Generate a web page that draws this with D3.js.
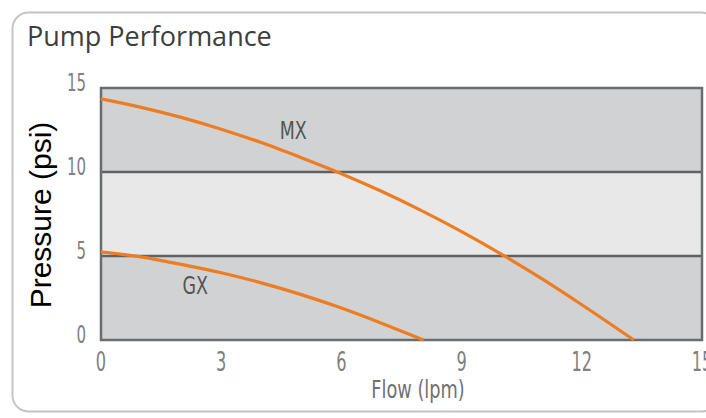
<!DOCTYPE html>
<html>
<head>
<meta charset="utf-8">
<script src="https://cdn.jsdelivr.net/npm/d3@7"></script>
<style>
  html, body { margin: 0; padding: 0; background: #fff; }
  svg { display: block; }
</style>
</head>
<body>
<svg id="chart" width="706" height="418"></svg>
<script>
// ---- data ----
const title = "Pump Performance";
const xTicks = [0, 3, 6, 9, 12, 15];
const yTicks = [0, 5, 10, 15];
const bands = [
  { from: 10, to: 15, shade: "dark" },
  { from: 5, to: 10, shade: "light" },
  { from: 0, to: 5, shade: "dark" }
];
const mxFlow     = [0,    1,     2,     3,     4,     5,     6,    7,    8,    9,    10,   11,   12,   13.3];
const mxPressure = [14.35, 13.85, 13.25, 12.55, 11.75, 10.85, 9.9, 8.85, 7.7, 6.45, 5.1, 3.65, 2.1, 0];
const gxFlow     = [0,    1,    2,    3,    4,    5,    6,    7,    8.05];
const gxPressure = [5.25, 4.95, 4.5,  4.0,  3.4,  2.7,  1.9,  1.0,  0];
const seriesNames = ["MX", "GX"];
const xLabel = "Flow (lpm)";
const yLabel = "Pressure (psi)";

// ---- drawing ----
const svg = d3.select("#chart");
const x = d3.scaleLinear().domain([0, 15]).range([101, 702]);
const y = d3.scaleLinear().domain([0, 15]).range([340, 88]);
const condensed = "'DejaVu Sans', sans-serif";

// outer rounded frame
svg.append("rect")
  .attr("x", 12.5).attr("y", 12.5)
  .attr("width", 705).attr("height", 399)
  .attr("rx", 16).attr("ry", 16)
  .attr("fill", "#fff")
  .attr("stroke", "#c4c4c4")
  .attr("stroke-width", 2);

// title
svg.append("text")
  .attr("x", 27).attr("y", 46)
  .attr("font-family", "'Open Sans', sans-serif")
  .attr("font-size", 27)
  .attr("fill", "#3e3e3e")
  .text(title);

// bands
svg.append("g").selectAll("rect")
  .data(bands).join("rect")
  .attr("x", x(0)).attr("width", x(15) - x(0))
  .attr("y", d => y(d.to)).attr("height", d => y(d.from) - y(d.to))
  .attr("fill", d => d.shade === "dark" ? "#d1d2d4" : "#e8e8e8");

// band divider lines
svg.append("g").selectAll("line")
  .data([5, 10]).join("line")
  .attr("x1", x(0)).attr("x2", x(15))
  .attr("y1", d => y(d)).attr("y2", d => y(d))
  .attr("stroke", "#5f6163").attr("stroke-width", 2.5);

// plot frame
svg.append("rect")
  .attr("x", x(0)).attr("y", y(15))
  .attr("width", x(15) - x(0)).attr("height", y(0) - y(15))
  .attr("fill", "none")
  .attr("stroke", "#6a6c6e").attr("stroke-width", 2.5);

// curves
const line = d3.line().x(d => x(d[0])).y(d => y(d[1])).curve(d3.curveMonotoneX);
const mx = mxFlow.map((f, i) => [f, mxPressure[i]]);
const gx = gxFlow.map((f, i) => [f, gxPressure[i]]);
svg.append("g").selectAll("path")
  .data([mx, gx]).join("path")
  .attr("d", line)
  .attr("fill", "none")
  .attr("stroke", "#ec7d23")
  .attr("stroke-width", 3.2);

// helper for condensed text
function condText(sel, size, fill) {
  return sel.attr("font-family", condensed)
    .attr("font-size", size)
    .attr("fill", fill)
    .attr("dominant-baseline", "middle");
}

// series labels
const seriesLabelPos = [[4.8, 12.4], [2.35, 3.15]];
condText(svg.append("g").selectAll("text")
  .data(seriesNames).join("text")
  .attr("transform", (d, i) => `translate(${x(seriesLabelPos[i][0])},${y(seriesLabelPos[i][1])}) scale(0.7,1)`)
  .attr("text-anchor", "middle"), 25, "#555")
  .text(d => d);

// y tick labels
condText(svg.append("g").selectAll("text")
  .data(yTicks).join("text")
  .attr("transform", d => `translate(86,${y(d) - 4}) scale(0.6,1)`)
  .attr("text-anchor", "end"), 25, "#808080")
  .text(d => d);

// x tick labels
condText(svg.append("g").selectAll("text")
  .data(xTicks).join("text")
  .attr("transform", d => `translate(${x(d)},363) scale(0.6,1)`)
  .attr("text-anchor", "middle"), 27, "#808080")
  .text(d => d);

// x axis label
condText(svg.append("text")
  .attr("transform", "translate(418,391) scale(0.74,1)")
  .attr("text-anchor", "middle"), 24, "#707070")
  .text(xLabel);

// y axis label
svg.append("text")
  .attr("transform", "translate(51,215) rotate(-90)")
  .attr("text-anchor", "middle")
  .attr("font-family", "'Liberation Sans', Arial, sans-serif")
  .attr("font-size", 30)
  .attr("fill", "#000")
  .text(yLabel);
</script>
</body>
</html>
